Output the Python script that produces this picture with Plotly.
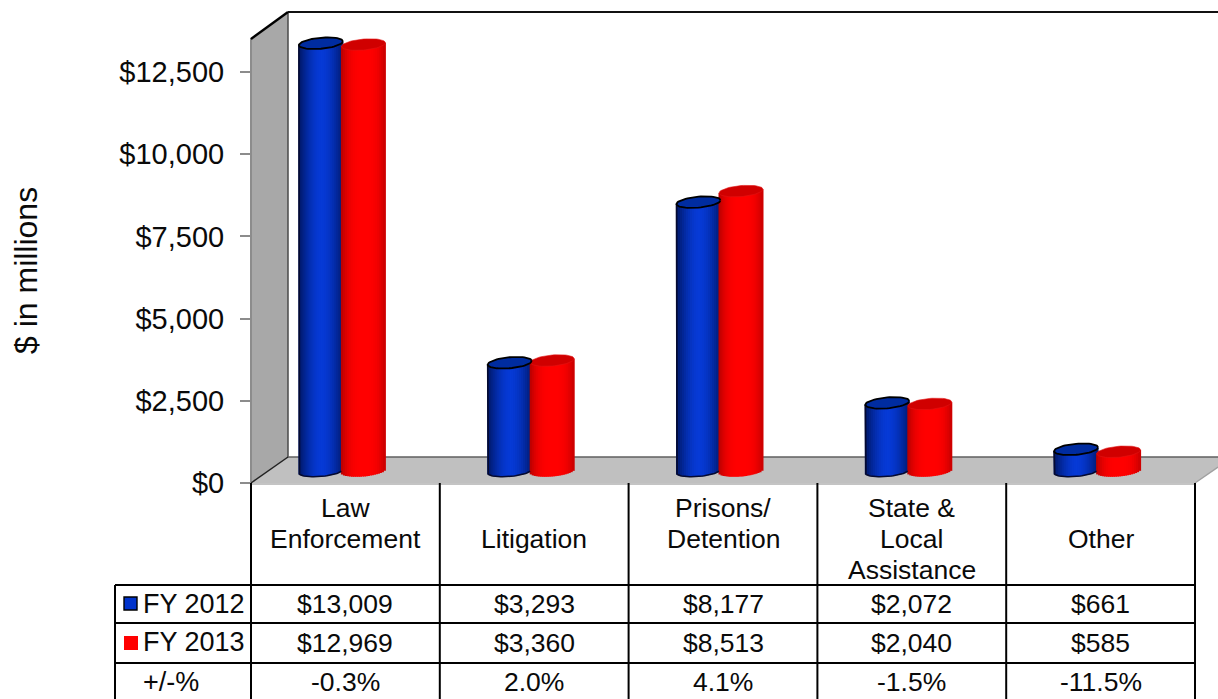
import math
import plotly.graph_objects as go

# ---- data ----
categories = [["Law", "Enforcement"], ["Litigation"], ["Prisons/", "Detention"],
              ["State &", "Local", "Assistance"], ["Other"]]
fy2012 = [13009, 3293, 8177, 2072, 661]
fy2013 = [12969, 3360, 8513, 2040, 585]
pct_change = ["-0.3%", "2.0%", "4.1%", "-1.5%", "-11.5%"]
tick_values = [0, 2500, 5000, 7500, 10000, 12500]
tick_labels = ["$0", "$2,500", "$5,000", "$7,500", "$10,000", "$12,500"]
row_labels = ["FY 2012", "FY 2013", "+/-%"]

# ---- layout constants (pixels in a 1218x699 page) ----
W, H = 1218, 699
FONT = "Liberation Sans, Arial, sans-serif"
px_x = lambda x: x / W
px_y = lambda y: 1 - y / H
X0, X1 = 251, 1195          # front plane of the category axis
UNIT_X = (X1 - X0) / 5
PX_PER_VAL = 411 / 12500    # value axis scale
Y0_FRONT, Y0_BARS = 483, 471
A, B, TILT = 22.0, 5.5, 0.085   # cylinder ellipse, pixels
OFF_BLUE, OFF_RED = -24.5 / UNIT_X, 18.0 / UNIT_X
N = 22

fig = go.Figure()


def mix(c0, c1, f):
    return "rgb(%d,%d,%d)" % tuple(round(a + (b - a) * f) for a, b in zip(c0, c1))


def cylinder_bars(values, offset, edge, center, sharp):
    for i in range(N):
        dx = -A + (i + 0.5) * 2 * A / N
        t = dx / A
        f = max(0.0, 1 - abs(t - 0.05) ** sharp)
        arc = B * math.sqrt(max(0.0, 1 - t * t))
        base = [(TILT * dx - arc) / PX_PER_VAL for _ in values]
        top = [v + TILT * dx / PX_PER_VAL for v in values]
        fig.add_trace(go.Bar(
            x=[k + offset + dx / UNIT_X for k in range(len(values))],
            y=[a - b for a, b in zip(top, base)], base=base,
            width=3.0 / UNIT_X, yaxis="y2", xaxis="x",
            marker=dict(color=mix(edge, center, f), line=dict(width=0)),
            hoverinfo="skip", showlegend=False))


def ellipse_trace(k, value, offset, fill, line_color, line_w):
    xs, ys = [], []
    for j in range(61):
        th = 2 * math.pi * j / 60
        dx = A * math.cos(th)
        dy = B * math.sin(th) + TILT * dx
        xs.append(k + offset + dx / UNIT_X)
        ys.append(value + dy / PX_PER_VAL)
    fig.add_trace(go.Scatter(x=xs, y=ys, yaxis="y2", mode="lines", fill="toself",
                             fillcolor=fill,
                             line=dict(color=line_color, width=line_w),
                             hoverinfo="skip", showlegend=False))


def outline_trace(k, value, offset):
    xs = [k + offset - A / UNIT_X]
    ys = [value - TILT * A / PX_PER_VAL]
    for j in range(0, 37):
        th = math.pi - j * (math.pi * 0.88) / 36
        dx = A * math.cos(th)
        xs.append(k + offset + dx / UNIT_X)
        ys.append((TILT * dx - B * math.sin(th)) / PX_PER_VAL)
    fig.add_trace(go.Scatter(x=xs, y=ys, yaxis="y2", mode="lines",
                             line=dict(color="#050a30", width=1.6),
                             hoverinfo="skip", showlegend=False))


cylinder_bars(fy2012, OFF_BLUE, (0, 24, 105), (6, 58, 214), 1.7)
cylinder_bars(fy2013, OFF_RED, (190, 0, 0), (255, 0, 0), 3.0)
for k, v in enumerate(fy2013):
    ellipse_trace(k, v, OFF_RED, "rgb(208,0,0)", "rgb(225,20,20)", 0.6)
for k, v in enumerate(fy2012):
    outline_trace(k, v, OFF_BLUE)
    ellipse_trace(k, v, OFF_BLUE, "rgb(0,44,160)", "#000000", 1.8)

# ---- walls, floor, table rules ----
shapes = []


def poly(points, fill, layer="below"):
    d = "M " + " L ".join(f"{px_x(x):.5f},{px_y(y):.5f}" for x, y in points) + " Z"
    shapes.append(dict(type="path", path=d, xref="paper", yref="paper", fillcolor=fill,
                       line=dict(width=0), layer=layer))


def seg(x0, y0, x1, y1, color="#000000", width=2, layer="above"):
    shapes.append(dict(type="line", xref="paper", yref="paper",
                       x0=px_x(x0), y0=px_y(y0), x1=px_x(x1), y1=px_y(y1),
                       line=dict(color=color, width=width), layer=layer))


poly([(251, 40), (288, 12), (288, 457), (251, 483)], "#a8a8a8")
poly([(251, 483), (288, 457), (1218, 457), (1218, 467), (1195, 483)], "#c0c0c0")
seg(251, 38, 251, 483, "#8c8c8c", 2, "below")
seg(288, 12, 288, 457, "#4a4a4a", 1.5, "below")
seg(288, 457, 1218, 457, "#5f5f5f", 1.5, "below")
seg(251, 484, 1195, 484, "#b0b0b0", 1.5, "below")
seg(251, 483, 288, 457, "#222222", 1.5, "below")
seg(1195, 483, 1218, 467, "#a0a0a0", 1.5, "below")
seg(251, 39, 288, 12, "#000000", 2.4, "below")
seg(288, 12, 1218, 12, "#111111", 2.2, "below")

for k in range(6):
    x = X0 + k * UNIT_X
    seg(x, 483, x, H)
for y in (585, 623, 663):
    seg(115, y, X1, y)
seg(115, 585, 115, H)

# legend keys in the table
poly([(124, 597), (137, 597), (137, 610), (124, 610)], "#0033cc", "above")
shapes[-1]["line"] = dict(color="#000000", width=1.4)
poly([(124, 636), (138, 636), (138, 650), (124, 650)], "#ff0000", "above")

# ---- text ----
annotations = []


def text(s, x, y, xref="paper", xanchor="center", size=26.5, angle=0):
    annotations.append(dict(text=s, x=x, y=px_y(y), xref=xref, yref="paper",
                            xanchor=xanchor, yanchor="middle", showarrow=False,
                            textangle=angle,
                            font=dict(family=FONT, size=size, color="#0a0a0a")))


text("$ in millions", px_x(26), 271, size=32, angle=-90)
LINE_Y = [508, 539, 570]
for k, lines in enumerate(categories):
    ys = [539] if len(lines) == 1 else LINE_Y[:len(lines)]
    for s, y in zip(lines, ys):
        text(s, k, y, xref="x")
for label, y in zip(row_labels[:2], (604, 642)):
    text(label, px_x(141), y, xanchor="left", size=27)
text(row_labels[2], px_x(141), 682, xanchor="left", size=27)
for k in range(5):
    text(f"${fy2012[k]:,}", k, 604, xref="x")
    text(f"${fy2013[k]:,}", k, 643, xref="x")
    text(pct_change[k], k, 682, xref="x")

fig.update_layout(
    width=W, height=H, margin=dict(l=0, r=0, t=0, b=0, pad=0, autoexpand=False),
    paper_bgcolor="white", plot_bgcolor="rgba(0,0,0,0)", barmode="overlay",
    showlegend=False, shapes=shapes, annotations=annotations,
    xaxis=dict(domain=[px_x(X0), px_x(X1)], range=[-0.5, 4.5], visible=False, fixedrange=True,
               automargin=False),
    yaxis=dict(domain=[px_y(Y0_FRONT), px_y(12)],
               range=[0, (Y0_FRONT - 12) / PX_PER_VAL],
               anchor="free", position=px_x(X0), side="left", automargin=False,
               tickmode="array", tickvals=tick_values, ticktext=tick_labels,
               ticks="outside", ticklen=11, tickwidth=1.5, tickcolor="#8c8c8c",
               ticklabelstandoff=10,
               tickfont=dict(family=FONT, size=29, color="#0a0a0a"),
               showgrid=False, zeroline=False, showline=False, fixedrange=True),
    # an overlaying axis shares the domain of y: same scale, zero raised to the floor's middle
    yaxis2=dict(range=[(Y0_BARS - Y0_FRONT) / PX_PER_VAL, (Y0_BARS - 12) / PX_PER_VAL],
                overlaying="y", visible=False, fixedrange=True, automargin=False),
)
# a trace on the primary value axis so that its ticks are drawn
fig.add_trace(go.Scatter(x=[0], y=[0], yaxis="y", mode="markers",
                         marker=dict(opacity=0), hoverinfo="skip", showlegend=False))

fig.write_html("out.html", config=dict(displayModeBar=False),
               post_script="document.body.style.margin='0';document.body.style.overflow='hidden';")
